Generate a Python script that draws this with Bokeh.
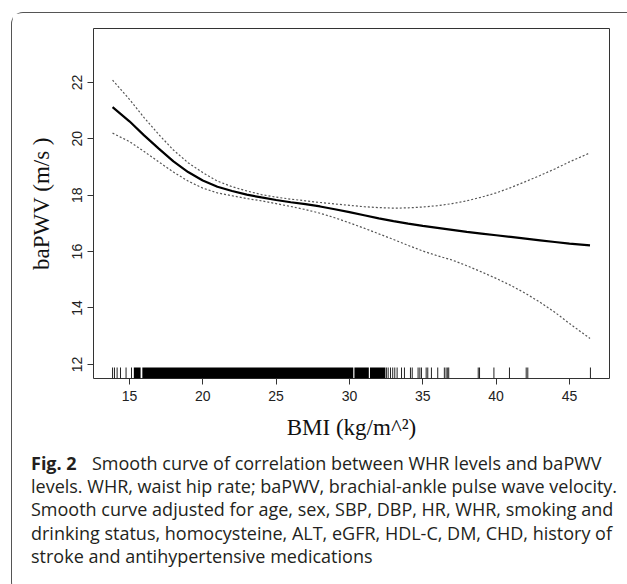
from bokeh.plotting import figure
from bokeh.layouts import column
from bokeh.models import Range1d, FixedTicker, Div
from bokeh.embed import file_html
from bokeh.resources import INLINE

# ---------------- data ----------------
bmi = [13.85, 15, 16, 17, 18, 19, 20, 21, 22, 23, 24, 25, 26, 27, 28, 29, 30,
       31, 32, 33, 34, 35, 36, 37, 38, 39, 40, 41, 42, 43, 44, 45, 46.4]
fit = [21.12, 20.62, 20.12, 19.65, 19.20, 18.82, 18.52, 18.30, 18.15, 18.02,
       17.92, 17.83, 17.75, 17.68, 17.60, 17.50, 17.40, 17.29, 17.18, 17.08,
       16.99, 16.91, 16.84, 16.77, 16.70, 16.64, 16.58, 16.52, 16.46, 16.40,
       16.34, 16.28, 16.22]
upper = [22.08, 21.40, 20.75, 20.15, 19.60, 19.15, 18.80, 18.50, 18.30, 18.15,
         18.02, 17.93, 17.86, 17.80, 17.74, 17.69, 17.64, 17.59, 17.56, 17.54,
         17.55, 17.58, 17.63, 17.70, 17.80, 17.93, 18.08, 18.27, 18.48, 18.70,
         18.93, 19.18, 19.50]
lower = [20.20, 19.90, 19.55, 19.18, 18.82, 18.50, 18.25, 18.08, 17.98, 17.88,
         17.80, 17.70, 17.60, 17.49, 17.36, 17.20, 17.02, 16.83, 16.63, 16.43,
         16.22, 16.02, 15.85, 15.70, 15.50, 15.28, 15.05, 14.80, 14.52, 14.20,
         13.85, 13.45, 12.92]

rug_single = [13.85, 13.98, 14.16, 14.39, 14.77, 15.14, 32.52, 32.64, 32.80,
              32.95, 33.09, 33.25, 33.55, 33.75, 34.16, 34.28, 34.68, 34.80,
              34.91, 35.23, 35.34, 35.59, 36.02, 36.47, 36.59, 36.70, 36.77,
              38.78, 38.87, 39.85, 40.91, 42.05, 42.16, 46.43]
rug_block_lo = [15.30, 15.88, 30.34, 31.40]
rug_block_hi = [15.76, 30.26, 31.32, 32.45]

x_ticks = [15, 20, 25, 30, 35, 40, 45]
y_ticks = [12, 14, 16, 18, 20, 22]
x_label = "BMI (kg/m^²)"
y_label = "baPWV (m/s )"

caption_bold = "Fig. 2"
caption_first = "Smooth curve of correlation between WHR levels and baPWV"
caption_rest = [
    "levels. WHR, waist hip rate; baPWV, brachial-ankle pulse wave velocity.",
    "Smooth curve adjusted for age, sex, SBP, DBP, HR, WHR, smoking and",
    "drinking status, homocysteine, ALT, eGFR, HDL-C, DM, CHD, history of",
    "stroke and antihypertensive medications",
]

# ---------------- main plot ----------------
X0, X1 = 12.55, 47.73
Y0, Y1 = 11.50, 23.91
FRAME_H = 350
RUG = 11 * (Y1 - Y0) / FRAME_H
W = 615

p = figure(width=W, height=432, x_range=Range1d(X0, X1), y_range=Range1d(Y0, Y1),
           output_backend="svg", toolbar_location=None,
           min_border_left=81, min_border_right=18, min_border_top=15,
           min_border_bottom=67)
p.grid.visible = False
p.outline_line_color = "#333333"
p.outline_line_width = 1
p.background_fill_color = "white"
p.border_fill_color = "white"

for ax in (p.xaxis[0], p.yaxis[0]):
    ax.axis_line_color = None
    ax.major_tick_line_color = "#333333"
    ax.major_tick_out = 6
    ax.major_tick_in = 0
    ax.minor_tick_line_color = None
    ax.major_label_text_font = "Liberation Sans"
    ax.major_label_text_font_size = "14px"
    ax.major_label_text_color = "#222222"
    ax.axis_label_text_font = "Liberation Serif"
    ax.axis_label_text_font_size = "23px"
    ax.axis_label_text_font_style = "normal"
    ax.axis_label_text_color = "#111111"

p.xaxis.ticker = FixedTicker(ticks=x_ticks)
p.yaxis.ticker = FixedTicker(ticks=y_ticks)
p.yaxis.major_label_orientation = "vertical"
p.xaxis.axis_label = x_label
p.yaxis.axis_label = y_label
p.xaxis.major_label_standoff = 6
p.yaxis.major_label_standoff = 5
p.xaxis.axis_label_standoff = 11
p.yaxis.axis_label_standoff = 16

p.line(bmi, upper, line_color="#555555", line_width=1.2, line_dash="2 2")
p.line(bmi, lower, line_color="#555555", line_width=1.2, line_dash="2 2")
p.line(bmi, fit, line_color="black", line_width=2.2)

p.quad(left=rug_block_lo, right=rug_block_hi, bottom=Y0, top=Y0 + RUG,
       fill_color="black", line_color=None)
p.segment(x0=rug_single, y0=[Y0] * len(rug_single), x1=rug_single,
          y1=[Y0 + RUG] * len(rug_single), line_color="#222222", line_width=1)

# ---------------- caption ----------------
cap_html = (
    '<div style="font-family:\'Open Sans\';font-size:18px;line-height:23.2px;'
    'color:#231f20;white-space:nowrap;padding-left:14px;padding-top:2px;">'
    '<span style="display:inline-block;width:61px;font-weight:bold;">'
    + caption_bold + '</span>' + caption_first + '<br>'
    + '<br>'.join(caption_rest) + '</div>'
)
cap = Div(text=cap_html, width=W, height=138)

layout = column(p, cap, spacing=0, styles={
    "margin-left": "11px", "margin-top": "12px",
    "border-left": "1.3px solid #555555", "border-top": "1.3px solid #555555",
    "border-bottom": "1.3px solid #555555",
    "border-top-left-radius": "12px", "border-bottom-left-radius": "12px",
})

open("out.html", "w").write(file_html(layout, INLINE))
